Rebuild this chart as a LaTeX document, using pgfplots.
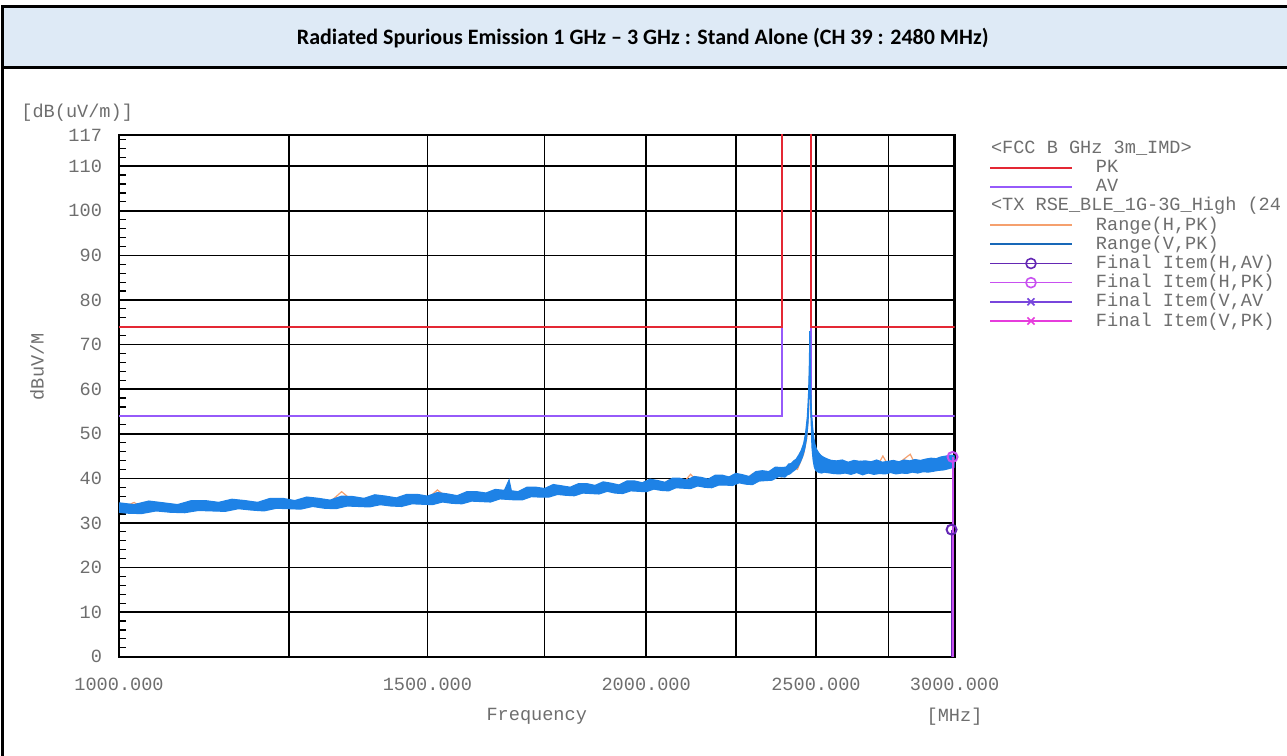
\documentclass[border=0pt]{standalone}
\usepackage{pgfplots}
\pgfplotsset{compat=1.18}
\usepackage{fontspec}
\setmainfont{Carlito}
\newfontfamily\mono{Liberation Mono}

\definecolor{hdrfill}{RGB}{222,234,246}
\definecolor{tickgray}{RGB}{110,110,110}
\definecolor{pkred}{RGB}{228,40,52}
\definecolor{avpurple}{RGB}{150,90,250}
\definecolor{rangeH}{RGB}{245,160,110}
\definecolor{rangeV}{RGB}{30,130,230}
\definecolor{fHAV}{RGB}{100,40,180}
\definecolor{fHPK}{RGB}{200,80,240}
\definecolor{fVAV}{RGB}{120,70,220}
\definecolor{fVPK}{RGB}{230,60,220}

\newcommand{\lbl}{\mono\fontsize{9.3}{11}\selectfont}

\begin{document}
\begin{tikzpicture}
% frame and header, pixel units (y down)
\begin{scope}[x=0.5pt,y=-0.5pt]
\useasboundingbox (0,0) rectangle (1287,756);
\fill[hdrfill] (3,6) rectangle (1290,68);
\draw[line width=1.5pt] (1290,6) -- (3,6) -- (3,760);
\draw[line width=1.5pt] (3,68) -- (1290,68);
\node[font=\bfseries\fontsize{11}{13}\selectfont] at (643,38)
  {Radiated Spurious Emission 1 GHz – 3 GHz : Stand Alone (CH 39 : 2480 MHz)};
\node[font=\lbl, text=tickgray, anchor=west, inner sep=0pt] at (21,113) {[dB(uV/m)]};
\node[font=\lbl, text=tickgray, rotate=90] at (37,367) {dBuV/M};
\node[font=\lbl, text=tickgray] at (537,717) {Frequency};
\node[font=\lbl, text=tickgray] at (955,717) {[MHz]};
\end{scope}

\begin{axis}[
  at={(59.5pt,-328.5pt)}, anchor=south west,
  width=418pt, height=261pt, scale only axis,
  xmode=log, xmin=1000, xmax=3000, ymin=0, ymax=117,
  xtick={1000,1250,1500,1750,2000,2250,2500,2750,3000},
  xticklabels={1000.000,,1500.000,,2000.000,,2500.000,,3000.000},
  ytick={0,10,20,30,40,50,60,70,80,90,100,110,117},
  minor ytick={2,4,...,116},
  grid=major, major grid style={black, line width=0.8pt},
  axis line style={black, line width=1.2pt},
  xtick style={draw=none},
  ytick pos=left, tick align=inside,
  major tick length=0pt, minor tick length=3.5pt,
  minor tick style={black, line width=0.6pt},
  tick label style={font=\lbl, text=tickgray},
  /pgf/number format/assume math mode=true,
  yticklabel style={xshift=-5pt},
  xticklabel style={yshift=-7pt},
  legend style={at={(1.0335,1.0)}, anchor=north west, draw=none, fill=none,
    font=\lbl, text=tickgray, row sep=0.6pt,
    nodes={inner sep=0pt, text height=7pt, text depth=2pt},
    /tikz/every odd column/.append style={column sep=11.5pt}},
  legend cell align=left,
  legend image code/.code={\draw[mark repeat=2,mark phase=2,#1]
    plot coordinates {(0pt,0pt) (20.5pt,0pt) (41pt,0pt)};},
]
% limit lines
\addplot[avpurple, line width=1pt, forget plot] coordinates {(1000,54) (2390,54) (2390,120)};
\addplot[avpurple, line width=1pt, forget plot] coordinates {(2483.5,120) (2483.5,54) (3000,54)};
\addplot[pkred, line width=1pt, forget plot] coordinates {(1000,74) (2390,74) (2390,120)};
\addplot[pkred, line width=1pt, forget plot] coordinates {(2483.5,120) (2483.5,74) (3000,74)};

% Range(H,PK)
\addplot[rangeH, line width=0.6pt, forget plot] coordinates {
(1000,33.0) (1020,34.6) (1040,32.5) (1060,34.4) (1080,32.6) (1100,34.8) (1130,32.9)
(1160,35.0) (1190,33.1) (1220,35.3) (1250,33.4) (1280,35.4) (1310,33.6) (1340,37.0)
(1370,33.9) (1400,35.8) (1430,34.2) (1460,36.0) (1490,34.4) (1520,37.4) (1550,34.7)
(1580,36.6) (1610,35.1) (1640,37.0) (1670,35.5) (1700,37.4) (1730,36.0) (1760,38.1)
(1790,36.6) (1820,38.4) (1850,36.9) (1880,38.6) (1910,37.2) (1940,38.9) (1970,37.4)
(2000,39.4) (2030,37.7) (2060,39.6) (2090,38.0) (2120,40.9) (2150,38.4) (2180,40.2)
(2210,38.8) (2240,40.6) (2270,39.2) (2300,41.0) (2330,39.6) (2360,41.8) (2390,40.3)
(2420,42.6) (2440,42.0) (2460,45.5) (2470,49.0) (2476,55.0) (2480,66.0) (2484,54.0)
(2490,48.0) (2500,44.5) (2520,42.0) (2550,43.5) (2600,41.5) (2650,43.8) (2700,41.6)
(2730,45.0) (2760,41.8) (2800,44.0) (2830,45.4) (2860,41.9) (2900,44.2) (2950,42.2)
(3000,44.5)};

% Range(V,PK): upper edge of the trace, then lower edge back
\addplot[draw=rangeV, fill=rangeV, line width=0.6pt, forget plot] coordinates {
(1000,34.5) (1020,34.1) (1040,34.9) (1060,34.5) (1080,34.1) (1100,35.0) (1120,35.0)
(1140,34.6) (1160,35.3) (1180,35.0) (1200,34.6) (1220,35.5) (1240,35.5) (1260,35.0)
(1280,35.8) (1300,35.5) (1320,35.1) (1340,36.0) (1360,35.9) (1380,35.5) (1400,36.3)
(1420,36.0) (1440,35.6) (1460,36.4) (1480,36.4) (1500,36.0) (1520,36.8) (1540,36.5)
(1560,36.1) (1580,37.0) (1600,37.0) (1620,36.7) (1640,37.5) (1660,37.3) (1670,39.6)
(1675,37.2) (1690,37.0) (1710,38.0) (1730,38.0) (1750,37.7) (1770,38.6) (1790,38.3)
(1810,38.0) (1830,38.8) (1850,38.8) (1870,38.4) (1890,39.2) (1910,38.9) (1930,38.5)
(1950,39.4) (1970,39.4) (1990,39.0) (2010,39.8) (2030,39.5) (2050,39.1) (2070,40.0)
(2090,40.0) (2110,39.6) (2130,40.4) (2150,40.2) (2170,39.8) (2190,40.7) (2210,40.7)
(2230,40.3) (2250,41.1) (2270,40.8) (2290,40.4) (2310,41.5) (2330,41.7) (2350,41.5)
(2370,42.5) (2390,42.4) (2404,42.5) (2412,43.2) (2420,43.3) (2428,43.9) (2436,44.3)
(2444,45.2) (2452,46.2) (2460,47.8) (2466,50.0) (2472,53.8) (2476,59.0) (2478,64.0)
(2479,67.0) (2480,73.0) (2481,67.0) (2482,62.0) (2485,55.0) (2489,51.5) (2493,49.0)
(2497,47.5) (2502,46.5) (2508,45.8) (2515,45.2) (2523,44.8) (2532,44.5) (2542,44.2)
(2552,44.0) (2568,43.9) (2588,44.1) (2608,43.6) (2628,44.0) (2648,43.8) (2668,43.9)
(2688,43.7) (2708,44.1) (2728,43.6) (2748,43.8) (2768,44.0) (2788,43.7) (2808,44.1)
(2828,43.9) (2848,44.2) (2868,44.0) (2888,44.3) (2908,44.5) (2928,44.4) (2948,44.8)
(2968,45.0) (2988,45.2) (3000,45.0)
(2998,42.5) (2978,42.2) (2958,41.9) (2938,41.8) (2918,41.6) (2898,41.4) (2878,41.5)
(2858,41.2) (2838,41.4) (2818,41.1) (2798,41.2) (2778,41.0) (2758,41.3) (2738,41.0)
(2718,41.1) (2698,40.9) (2678,41.2) (2658,40.8) (2638,41.3) (2618,40.9) (2598,41.2)
(2578,41.0) (2558,41.1) (2547,41.2) (2537,41.3) (2527,41.4) (2519,41.2) (2511,41.3)
(2505,41.5) (2499,41.8) (2495,42.5) (2491,44.0) (2487,47.0) (2483,56.0) (2481,62.0)
(2480,68.0) (2479,63.0) (2477,58.0) (2474,52.5) (2469,48.8) (2463,46.5) (2456,44.8)
(2448,43.5) (2440,42.5) (2432,41.9) (2424,41.5) (2416,41.0) (2408,40.8) (2400,40.3)
(2380,40.4) (2360,39.6) (2340,39.5) (2320,39.4) (2300,38.6) (2280,38.7) (2260,39.0)
(2240,38.4) (2220,38.5) (2200,38.5) (2180,37.9) (2160,38.0) (2140,38.3) (2120,37.7)
(2100,37.8) (2080,37.9) (2060,37.2) (2040,37.3) (2020,37.6) (2000,37.0) (1980,37.1)
(1960,37.2) (1940,36.6) (1920,36.7) (1900,37.1) (1880,36.5) (1860,36.6) (1840,36.7)
(1820,36.1) (1800,36.2) (1780,36.4) (1760,35.8) (1740,35.8) (1720,35.9) (1700,35.2)
(1680,35.2) (1650,35.4) (1630,34.7) (1610,34.8) (1590,34.9) (1570,34.3) (1550,34.4)
(1530,34.7) (1510,34.1) (1490,34.2) (1470,34.3) (1450,33.7) (1430,33.8) (1410,34.1)
(1390,33.6) (1370,33.7) (1350,33.8) (1330,33.2) (1310,33.3) (1290,33.7) (1270,33.1)
(1250,33.2) (1230,33.3) (1210,32.7) (1190,32.9) (1170,33.2) (1150,32.6) (1130,32.7)
(1110,32.8) (1090,32.3) (1070,32.4) (1050,32.7) (1030,32.1) (1010,32.2) (1000,32.4)};

% final items
\addplot[fHAV, line width=1pt, ycomb, mark=o, mark size=2.5pt, forget plot] coordinates {(2988,28.5)};
\addplot[fHPK, line width=1pt, ycomb, mark=o, mark size=2.5pt, forget plot] coordinates {(2992,44.8)};

% legend
\addlegendimage{empty legend}
\addlegendentry{\hspace*{-52.5pt}<FCC B GHz 3m\_IMD>}
\addlegendimage{pkred, line width=1pt}
\addlegendentry{PK}
\addlegendimage{avpurple, line width=1pt}
\addlegendentry{AV}
\addlegendimage{empty legend}
\addlegendentry{\hspace*{-52.5pt}<TX RSE\_BLE\_1G-3G\_High (24}
\addlegendimage{rangeH, line width=0.8pt}
\addlegendentry{Range(H,PK)}
\addlegendimage{rangeV!80!black, line width=0.8pt}
\addlegendentry{Range(V,PK)}
\addlegendimage{fHAV, line width=0.8pt, mark=o, mark size=2.5pt}
\addlegendentry{Final Item(H,AV)}
\addlegendimage{fHPK, line width=0.8pt, mark=o, mark size=2.5pt}
\addlegendentry{Final Item(H,PK)}
\addlegendimage{fVAV, line width=0.8pt, mark=x, mark size=2.5pt}
\addlegendentry{Final Item(V,AV}
\addlegendimage{fVPK, line width=0.8pt, mark=x, mark size=2.5pt}
\addlegendentry{Final Item(V,PK)}
\end{axis}
\end{tikzpicture}
\end{document}
